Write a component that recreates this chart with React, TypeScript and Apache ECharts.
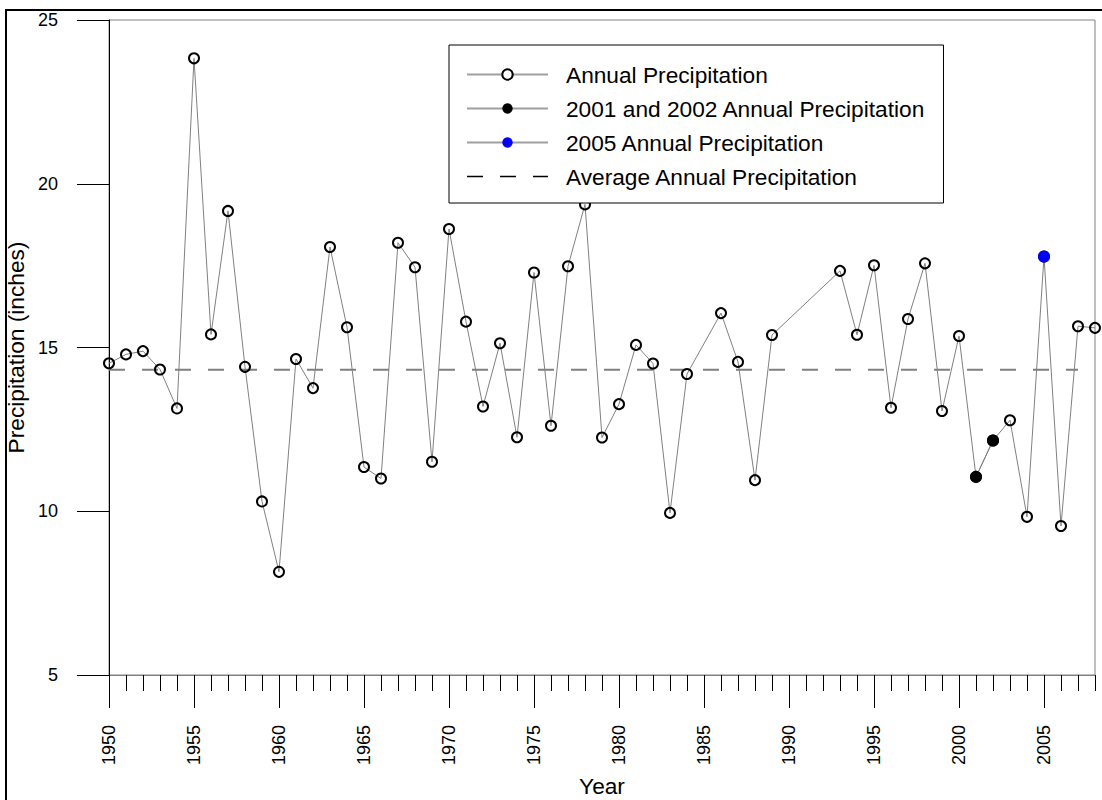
import React, { useEffect, useRef } from "react";
import * as echarts from "echarts";

const FONT = "Arial, 'Liberation Sans', Helvetica, sans-serif";

// Years with data (1985 and 1990-1992 are missing in the source)
const years = [
  1950, 1951, 1952, 1953, 1954, 1955, 1956, 1957, 1958, 1959,
  1960, 1961, 1962, 1963, 1964, 1965, 1966, 1967, 1968, 1969,
  1970, 1971, 1972, 1973, 1974, 1975, 1976, 1977, 1978, 1979,
  1980, 1981, 1982, 1983, 1984, 1986, 1987, 1988, 1989,
  1993, 1994, 1995, 1996, 1997, 1998, 1999,
  2000, 2001, 2002, 2003, 2004, 2005, 2006, 2007, 2008,
];

const precip = [
  14.52, 14.79, 14.89, 14.33, 13.14, 23.83, 15.40, 19.17, 14.41, 10.30,
  8.15, 14.65, 13.76, 18.07, 15.62, 11.35, 11.00, 18.20, 17.45, 11.51,
  18.62, 15.79, 13.20, 15.13, 12.26, 17.29, 12.61, 17.48, 19.37, 12.25,
  13.27, 15.08, 14.51, 9.95, 14.19, 16.05, 14.56, 10.95, 15.38,
  17.34, 15.39, 17.51, 13.16, 15.87, 17.57, 13.06,
  15.35, 11.05, 12.16, 12.78, 9.83, 17.78, 9.55, 15.65, 15.60,
];

const dryYears = [2001, 2002];
const wetYears = [2005];
const averagePrecip = 14.32;
const averageSpan = [1950, 2007];

const majorYears = [1950, 1955, 1960, 1965, 1970, 1975, 1980, 1985, 1990, 1995, 2000, 2005];

const seriesNames = [
  "Annual Precipitation",
  "2001 and 2002 Annual Precipitation",
  "2005 Annual Precipitation",
  "Average Annual Precipitation",
];

const pick = (ys: number[]) => ys.map((y) => [y, precip[years.indexOf(y)]]);

export default function App() {
  const ref = useRef<HTMLDivElement>(null);

  useEffect(() => {
    if (!ref.current) return;
    const chart = echarts.init(ref.current, null, { renderer: "svg" });
    const option: any = {
      animation: false,
      backgroundColor: "#fff",
      textStyle: { fontFamily: FONT, color: "#000" },
      grid: {
        left: 109,
        right: 7,
        top: 20,
        bottom: 125,
        containLabel: false,
        outerBoundsMode: "none",
        show: true,
        borderColor: "#808080",
        borderWidth: 1,
        backgroundColor: "transparent",
      },
      graphic: [
        {
          type: "rect",
          shape: { x: 6, y: 10, width: 1200, height: 900 },
          style: { fill: "none", stroke: "#000", lineWidth: 2 },
          silent: true,
          z: 100,
        },
      ],
      legend: {
        orient: "vertical",
        left: 449,
        top: 45,
        padding: [18, 18, 15, 17],
        itemWidth: 81,
        itemHeight: 13,
        itemGap: 11,
        borderColor: "#000",
        borderWidth: 1,
        backgroundColor: "#fff",
        selectedMode: false,
        textStyle: {
          fontSize: 22.7,
          lineHeight: 23,
          color: "#000",
          fontFamily: FONT,
          padding: [0, 0, 0, 13],
        },
        data: [
          { name: seriesNames[0], itemStyle: { color: "#fff" }, lineStyle: { color: "#a0a0a0" } },
          { name: seriesNames[1], lineStyle: { color: "#a0a0a0" } },
          { name: seriesNames[2], lineStyle: { color: "#a0a0a0" } },
          {
            name: seriesNames[3],
            lineStyle: { color: "#000", width: 1.5 },
            itemStyle: { color: "rgba(0,0,0,0)", borderWidth: 0, opacity: 0 },
          },
        ],
      },
      xAxis: [
        {
          type: "value",
          position: "bottom",
          min: 1950,
          max: 2008,
          interval: 1,
          axisLine: { show: true, lineStyle: { color: "#808080", width: 1 } },
          axisTick: { show: true, length: 16, lineStyle: { color: "#000", width: 1 } },
          axisLabel: {
            customValues: majorYears,
            rotate: 90,
            margin: 50,
            fontSize: 18,
            color: "#000",
            fontFamily: FONT,
            formatter: (v: number) => String(v),
          },
          splitLine: { show: false },
          name: "Year",
          nameLocation: "middle",
          nameGap: 100,
          nameTextStyle: { fontSize: 22.7, lineHeight: 22, color: "#000", fontFamily: FONT },
        },
        {
          type: "value",
          position: "bottom",
          min: 1950,
          max: 2008,
          axisLine: { show: false },
          axisTick: {
            show: true,
            customValues: majorYears,
            length: 33,
            lineStyle: { color: "#000", width: 1 },
          },
          axisLabel: { show: false },
          splitLine: { show: false },
        },
      ],
      yAxis: {
        type: "value",
        min: 5,
        max: 25,
        interval: 5,
        axisLine: { show: true, lineStyle: { color: "#000", width: 1 } },
        axisTick: { show: true, length: 32, lineStyle: { color: "#000", width: 1 } },
        axisLabel: { margin: 51, fontSize: 18, color: "#000", fontFamily: FONT },
        splitLine: { show: false },
        name: "Precipitation (inches)",
        nameLocation: "middle",
        nameRotate: 90,
        nameGap: 80,
        nameTextStyle: { fontSize: 22.7, color: "#000", fontFamily: FONT },
      },
      series: [
        {
          name: seriesNames[3],
          type: "line",
          data: averageSpan.map((y) => [y, averagePrecip]),
          symbol: "none",
          itemStyle: { color: "#808080" },
          lineStyle: { color: "#808080", width: 2, type: [16, 17] },
          silent: true,
          z: 1,
        },
        {
          name: seriesNames[0],
          type: "line",
          data: years.map((y, i) => [y, precip[i]]),
          symbol: "circle",
          symbolSize: 10,
          clip: false,
          itemStyle: { color: "rgba(255,255,255,0)", borderColor: "#000", borderWidth: 2 },
          lineStyle: { color: "#808080", width: 1 },
          z: 2,
        },
        {
          name: seriesNames[1],
          type: "line",
          data: pick(dryYears),
          symbol: "circle",
          symbolSize: 12,
          clip: false,
          itemStyle: { color: "#000", borderWidth: 0 },
          lineStyle: { color: "#808080", width: 1 },
          z: 3,
        },
        {
          name: seriesNames[2],
          type: "line",
          data: pick(wetYears),
          symbol: "circle",
          symbolSize: 12,
          clip: false,
          itemStyle: { color: "#0000ff", borderWidth: 0 },
          lineStyle: { color: "#808080", width: 1 },
          z: 3,
        },
      ],
    };
    chart.setOption(option);
    return () => chart.dispose();
  }, []);

  return (
    <div
      ref={ref}
      style={{ position: "fixed", left: 0, top: 0, width: 1102, height: 800, background: "#fff" }}
    />
  );
}
